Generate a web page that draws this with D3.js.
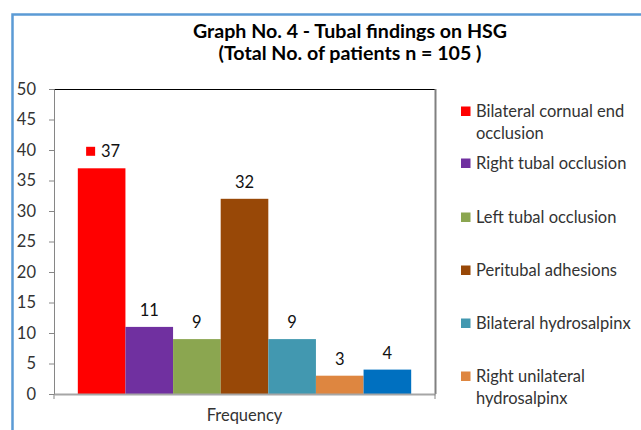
<!DOCTYPE html>
<html>
<head>
<meta charset="utf-8">
<script src="https://cdn.jsdelivr.net/npm/d3@7"></script>
<style>
  html, body { margin: 0; padding: 0; background: #fff; }
  svg { display: block; font-family: Lato, "Open Sans", sans-serif; }
</style>
</head>
<body>
<svg id="chart" width="641" height="430"></svg>
<script>
const titleLines = ["Graph No. 4 - Tubal findings on HSG", "(Total No. of patients n = 105 )"];
const titleWidths = [314, 263];
const categories = ["Frequency"];
const seriesNames = ["Bilateral cornual end occlusion", "Right tubal occlusion", "Left tubal occlusion", "Peritubal adhesions", "Bilateral hydrosalpinx", "Right unilateral hydrosalpinx", ""];
const seriesValues = [37, 11, 9, 32, 9, 3, 4];
const seriesColors = ["#FF0000", "#7030A0", "#8BA650", "#984807", "#4298B0", "#DE8640", "#0070C0"];
const legendLines = [["Bilateral cornual end", "occlusion"], ["Right tubal occlusion"], ["Left tubal occlusion"], ["Peritubal adhesions"], ["Bilateral hydrosalpinx"], ["Right unilateral", "hydrosalpinx"]];
const yTicks = [0, 5, 10, 15, 20, 25, 30, 35, 40, 45, 50];

const svg = d3.select("#chart");

// outer chart border (cropped on right/bottom)
svg.append("rect").attr("x", 12.5).attr("y", 14.5).attr("width", 700).attr("height", 500)
  .attr("fill", "none").attr("stroke", "#5B9BD5").attr("stroke-width", 2.5);

// title
svg.append("g").selectAll("text").data(titleLines).join("text")
  .attr("x", 350).attr("y", (d, i) => 37.5 + i * 22.5)
  .attr("text-anchor", "middle").attr("font-weight", "bold").attr("font-size", 18.5)
  .attr("textLength", (d, i) => titleWidths[i]).attr("lengthAdjust", "spacingAndGlyphs")
  .attr("fill", "#000").text(d => d);

const plot = { left: 54, right: 435, top: 89, bottom: 394 };
const y = d3.scaleLinear().domain([0, 50]).range([plot.bottom, plot.top]);
const x0 = d3.scaleBand().domain(categories).range([plot.left, plot.right]).padding(0);
const x1 = d3.scaleBand().domain(d3.range(seriesValues.length)).range([0, x0.bandwidth()])
  .paddingInner(0).paddingOuter(0.5);

// plot area top & right border
svg.append("line").attr("x1", plot.left).attr("x2", plot.right).attr("y1", plot.top + 0.5).attr("y2", plot.top + 0.5)
  .attr("stroke", "#000").attr("stroke-width", 1);
svg.append("line").attr("x1", plot.right + 0.5).attr("x2", plot.right + 0.5).attr("y1", plot.top).attr("y2", plot.bottom)
  .attr("stroke", "#808080").attr("stroke-width", 2);

// bars
const gBars = svg.append("g").attr("transform", `translate(${x0(categories[0])},0)`);
gBars.selectAll("rect").data(seriesValues).join("rect")
  .attr("x", (d, i) => x1(i)).attr("width", x1.bandwidth())
  .attr("y", d => y(d)).attr("height", d => y(0) - y(d))
  .attr("fill", (d, i) => seriesColors[i]);

// data labels
gBars.selectAll("text.lbl").data(seriesValues).join("text").attr("class", "lbl")
  .attr("x", (d, i) => x1(i) + x1.bandwidth() / 2 + (i === 0 ? 9 : 0))
  .attr("y", d => y(d) - 11)
  .attr("text-anchor", "middle").attr("font-size", 16.5).attr("fill", "#111")
  .text(d => d);
// legend key inside first label
gBars.append("rect").attr("x", x1(0) + x1.bandwidth() / 2 - 15.5).attr("y", y(seriesValues[0]) - 21.5)
  .attr("width", 9).attr("height", 9).attr("fill", seriesColors[0]);

// y axis
const yAxis = d3.axisLeft(y).tickValues(yTicks).tickSize(5).tickPadding(13);
const gy = svg.append("g").attr("transform", `translate(${plot.left},0)`).call(yAxis);
gy.select(".domain").attr("stroke", "#868686");
gy.selectAll(".tick line").attr("stroke", "#868686");
gy.selectAll(".tick text").attr("font-size", 16.5).attr("fill", "#333").attr("font-family", "Lato, sans-serif");

// x axis
const xAxis = d3.axisBottom(x0).tickSize(0).tickPadding(15);
const gx = svg.append("g").attr("transform", `translate(0,${plot.bottom})`).call(xAxis);
gx.select(".domain").attr("stroke", "#A6A6A6").attr("stroke-width", 2);
gx.selectAll(".tick text").attr("font-size", 16.5).attr("fill", "#333").attr("font-family", "Lato, sans-serif");
gx.append("line").attr("x1", plot.left).attr("x2", plot.left).attr("y1", 0).attr("y2", 5).attr("stroke", "#868686");
gx.append("line").attr("x1", plot.right).attr("x2", plot.right).attr("y1", 0).attr("y2", 5).attr("stroke", "#868686");

// legend
const legendTop = [111, 163, 217, 270, 323, 376];
const lg = svg.append("g").selectAll("g").data(legendLines).join("g")
  .attr("transform", (d, i) => `translate(461,${legendTop[i]})`);
lg.append("rect").attr("x", 0).attr("y", -4.5).attr("width", 9.5).attr("height", 9.5)
  .attr("fill", (d, i) => seriesColors[i]);
lg.each(function(lines) {
  d3.select(this).selectAll("text").data(lines).join("text")
    .attr("x", 15).attr("y", (d, j) => 6 + j * 21.5)
    .attr("font-size", 16.5).attr("fill", "#333").text(d => d);
});
</script>
</body>
</html>
